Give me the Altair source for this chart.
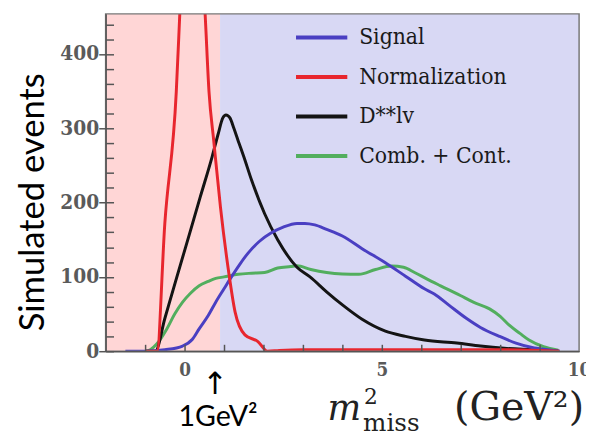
import altair as alt
import pandas as pd

# ---------------- data ----------------
series_names = ["Signal", "Normalization", "D**lv", "Comb. + Cont."]
series_colors = ["#4A3FC2", "#E8262E", "#141414", "#52AE5E"]
draw_order = ["Comb. + Cont.", "D**lv", "Signal", "Normalization"]

signal_x = [-1.5, -1.0, -0.5, -0.05, 0.2, 0.37, 0.6, 0.79, 1.0, 1.2, 1.4, 1.61, 1.9, 2.19,
            2.5, 2.85, 3.05, 3.3, 3.6, 4.0, 4.5, 5.09, 5.6, 6.08, 6.33, 6.7, 7.15, 7.5,
            7.98, 8.4, 8.81, 9.2, 9.5]
signal_y = [0, 0, 2, 7, 16, 30, 48, 66, 84, 101, 117, 132, 148, 159,
            167, 172, 172, 170, 164, 155, 138, 119, 101, 84, 77, 62, 44, 32,
            20, 11, 5, 2, 0]

norm_x = [-1.0, -0.7, -0.5, -0.21, -0.12, 0.0, 0.17, 0.35, 0.52, 0.62, 0.74, 0.91, 1.12,
          1.28, 1.53, 1.86, 2.1, 2.4, 3.0, 4.0, 5.0, 6.0, 7.0, 8.0, 9.0, 9.5]
norm_y = [0, 0, 172, 349, 455, 600, 720, 600, 455, 349, 283, 194, 106,
          53, 22, 13, 0, 1, 2, 2, 2, 2, 2, 2, 1, 0]

dss_x = [-1.0, -0.74, -0.5, -0.2, 0.12, 0.4, 0.7, 0.85, 0.97, 1.05, 1.15, 1.25, 1.36, 1.5,
         1.7, 2.03, 2.36, 2.85, 3.18, 3.6, 4.01, 4.5, 5.09, 5.6, 6.08, 6.9, 7.5, 8.1, 8.8, 9.5]
dss_y = [0, 0, 44, 99, 157, 208, 262, 292, 314, 318, 314, 300, 283, 262,
         230, 185, 150, 113, 100, 80, 62, 43, 27, 20, 15, 11, 7, 4, 2, 0]

comb_x = [-1.0, -0.87, -0.7, -0.45, -0.25, -0.05, 0.15, 0.37, 0.6, 0.79, 1.0, 1.36, 1.7,
          2.03, 2.36, 2.69, 2.85, 3.2, 3.6, 4.0, 4.42, 4.84, 5.25, 5.55, 5.83, 6.15, 6.49,
          6.99, 7.32, 7.73, 8.0, 8.23, 8.5, 8.73, 9.1, 9.47]
comb_y = [0, 2, 10, 30, 50, 66, 78, 88, 94, 98, 100, 103.5, 105,
          106, 112, 114, 115, 110, 106, 104, 103.5, 110, 114.6, 113, 106, 97, 88,
          75, 66, 57, 47, 35, 24, 15, 6, 1.5]

region_names = ["below cut", "above cut"]
region_start = [-2.0, 0.9]
region_end = [0.9, 10.0]
region_low = [0, 0]
region_high = [454, 454]
region_colors = ["#FFD6D6", "#D8D8F4"]

x_major = [0, 5, 10]
x_minor = list(range(-1, 10))
y_major = [0, 100, 200, 300, 400]
y_minor = list(range(0, 460, 20))

# ---------------- tables ----------------
curves = {
    "Signal": (signal_x, signal_y),
    "Normalization": (norm_x, norm_y),
    "D**lv": (dss_x, dss_y),
    "Comb. + Cont.": (comb_x, comb_y),
}
rows = []
for i, name in enumerate(draw_order):
    xs_, ys_ = curves[name]
    for a, b in zip(xs_, ys_):
        rows.append({"series": name, "x": a, "y": b, "k": i})
lines_df = pd.DataFrame(rows)

region_df = pd.DataFrame({"region": region_names, "start": region_start, "end": region_end,
                          "lo": region_low, "hi": region_high})

W, H = 480, 342
SERIF = "DejaVu Serif Condensed, DejaVu Serif"
xscale = alt.Scale(domain=[-2, 10], nice=False, zero=False)
yscale = alt.Scale(domain=[0, 454], nice=False, zero=False)
AX = "#555555"

bg = alt.Chart(region_df).mark_rect(opacity=1).encode(
    x=alt.X("start:Q", scale=xscale, axis=alt.Axis(
        orient="bottom", values=x_major, ticks=False, tickSize=0, labelPadding=10,
        domainColor=AX, domainWidth=1.5, labelFont=SERIF, labelFontSize=19,
        labelFontWeight="bold", labelColor="#5a5a5a", labelFlush=False, title=None,
        grid=False, zindex=2)),
    x2="end:Q",
    y=alt.Y("lo:Q", scale=yscale, axis=alt.Axis(
        orient="left", values=y_major, ticks=False, tickSize=0, labelPadding=7,
        domainColor=AX, domainWidth=1.5, labelFont=SERIF, labelFontSize=21,
        labelFontWeight="bold", labelColor="#5a5a5a", labelFlush=False, title=None,
        grid=False, zindex=2)),
    y2="hi:Q",
    fill=alt.Fill("region:N", scale=alt.Scale(domain=region_names, range=region_colors), legend=None),
)

lines = alt.Chart(lines_df).mark_line(strokeWidth=3, clip=True, interpolate="monotone").encode(
    x=alt.X("x:Q", scale=xscale, axis=alt.Axis(
        orient="bottom", values=x_minor, labels=False, domain=False, offset=-7, tickSize=7,
        tickColor=AX, tickWidth=1.5, title=None, grid=False, zindex=2)),
    y=alt.Y("y:Q", scale=yscale, axis=alt.Axis(
        orient="left", values=y_minor, labels=False, domain=False, offset=-8,
        tickSize=alt.condition("datum.value % 100 === 0", alt.value(15), alt.value(8)),
        tickColor=AX, tickWidth=1.5, title=None, grid=False, zindex=2)),
    color=alt.Color("series:N", scale=alt.Scale(domain=series_names, range=series_colors),
                    legend=alt.Legend(orient="none", legendX=191, legendY=-4, title=None,
                                      symbolType="stroke", symbolSize=2704, symbolStrokeWidth=4,
                                      labelFont=SERIF, labelFontSize=23,
                                      labelColor="#1a1a1a", labelOffset=10, rowPadding=-16,
                                      padding=0, labelLimit=300)),
    order=alt.Order("k:Q"),
    detail="series:N",
)

frame = alt.Chart(pd.DataFrame({"f": [0]})).mark_rect(
    fillOpacity=0, stroke="#777777", strokeWidth=1.5).encode(
    x=alt.value(0), x2=alt.value(W), y=alt.value(0), y2=alt.value(H))

def note(text, x, y, **kw):
    return alt.Chart(pd.DataFrame({"t": [text]})).mark_text(**kw).encode(
        x=alt.value(x), y=alt.value(y), text="t:N")

texts = [
    note("Simulated events", -62, 191, angle=270, align="center", baseline="alphabetic",
         font="Lato", fontSize=35, color="#000000"),
    note("↑", 111, 385, align="center", baseline="alphabetic", font="DejaVu Sans",
         fontSize=31, color="#000000"),
    note("1GeV²", 114, 418, align="center", baseline="alphabetic", font="Lato",
         fontSize=29, color="#000000"),
    note("m", 225, 412, align="left", baseline="alphabetic", font="DejaVu Serif",
         fontStyle="italic", fontSize=36, color="#222222"),
    note("2", 262, 396, align="left", baseline="alphabetic", font="DejaVu Serif",
         fontSize=22, color="#222222"),
    note("miss", 261, 423, align="left", baseline="alphabetic", font="DejaVu Serif",
         fontSize=25, color="#222222"),
    note("(GeV²)", 485, 412, align="right", baseline="alphabetic", font="DejaVu Serif",
         fontSize=40, color="#222222"),
]

chart = alt.layer(bg, lines, frame, *texts).resolve_axis(
    x="independent", y="independent"
).properties(
    width=W, height=H,
    padding={"left": 99, "top": 3, "right": 7, "bottom": 83},
    autosize=alt.AutoSizeParams(type="none"),
).configure_view(stroke=None)

chart.save("out.html", embed_options={"renderer": "svg", "actions": False})
